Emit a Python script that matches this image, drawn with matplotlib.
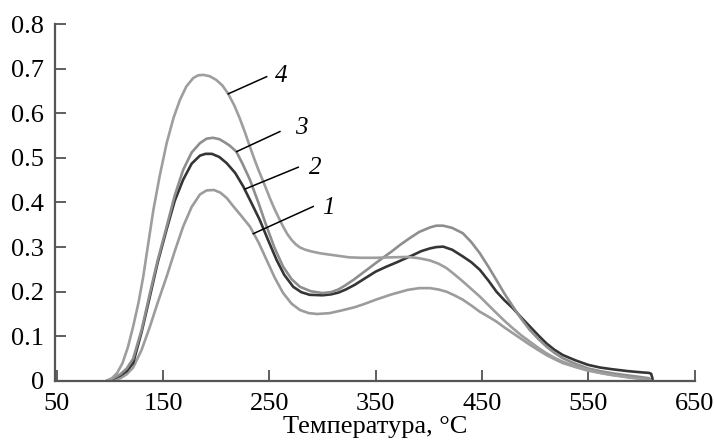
"""TPD-like curves 1-4 vs temperature"""
import numpy as np
from matplotlib import pyplot as plt

plt.rcParams['font.family'] = ['Liberation Serif', 'DejaVu Serif']

# curve 1
t1 = [97, 103, 110, 116, 122, 130, 137.8, 145, 153.5, 161, 169, 177, 184.8, 191, 198, 204, 210, 216, 224,
      231.8, 240, 247.5, 255, 263, 271, 278.8, 287, 295, 307, 318, 330, 340, 350, 365, 380, 391, 401, 409,
      416.6, 424, 432, 440, 448, 456, 463.6, 471, 479, 487, 495, 503, 510.6, 518, 526, 538, 549.7, 561, 573,
      587, 601, 609]
v1 = [0, 0.002, 0.006, 0.015, 0.03, 0.07, 0.122, 0.175, 0.234, 0.29, 0.346, 0.39, 0.418, 0.427, 0.428, 0.422,
      0.41, 0.392, 0.369, 0.346, 0.31, 0.271, 0.232, 0.197, 0.173, 0.159, 0.152, 0.15, 0.152, 0.158, 0.165, 0.173,
      0.182, 0.194, 0.204, 0.208, 0.208, 0.205, 0.2, 0.192, 0.182, 0.169, 0.155, 0.144, 0.133, 0.12, 0.107, 0.094,
      0.081, 0.069, 0.058, 0.049, 0.04, 0.031, 0.023, 0.018, 0.013, 0.009, 0.005, 0]
# curve 2
t2 = [97, 103, 110, 116, 122, 130, 137.8, 145, 153.5, 161, 169, 177, 184.8, 190, 196, 203, 210, 218, 225.5,
      233, 241, 249, 256.9, 264, 272.5, 280, 288, 300, 308, 315, 322, 330, 340, 350, 360, 370, 385, 393, 401,
      407, 413.5, 422, 432, 440, 448, 456, 463.6, 471, 479, 487, 495, 503, 510.6, 518, 526, 538, 549.7, 561,
      573, 587, 601, 607, 609, 610, 610.5]
v2 = [0, 0.005, 0.012, 0.022, 0.04, 0.11, 0.19, 0.265, 0.34, 0.403, 0.451, 0.487, 0.505, 0.509, 0.509, 0.502,
      0.488, 0.466, 0.436, 0.4, 0.361, 0.315, 0.271, 0.238, 0.211, 0.199, 0.193, 0.192, 0.194, 0.198, 0.205, 0.215,
      0.23, 0.245, 0.256, 0.266, 0.282, 0.291, 0.297, 0.3, 0.301, 0.294, 0.279, 0.266, 0.249, 0.225, 0.2, 0.181,
      0.163, 0.142, 0.122, 0.102, 0.084, 0.07, 0.058, 0.046, 0.036, 0.03, 0.026, 0.022, 0.019, 0.018, 0.016,
      0.008, 0]
# curve 3
t3 = [97, 103, 110, 116, 122, 130, 137.8, 145, 153.5, 161, 169, 177, 184.8, 191, 197, 203, 208, 213, 219,
      225, 231.8, 240, 247.5, 255, 263, 271, 278.8, 289, 300, 308, 315, 322, 330, 340, 350, 358, 365, 373, 382,
      391, 401, 407, 413.5, 422, 432, 440, 448, 456, 463.6, 471, 479, 487, 495, 503, 510.6, 518, 526, 538,
      549.7, 561, 573, 585, 595, 607, 609]
v3 = [0, 0.006, 0.015, 0.028, 0.05, 0.115, 0.197, 0.27, 0.346, 0.415, 0.473, 0.512, 0.533, 0.543, 0.545, 0.542,
      0.535, 0.527, 0.514, 0.486, 0.451, 0.398, 0.346, 0.298, 0.256, 0.228, 0.211, 0.201, 0.197, 0.199, 0.205,
      0.215, 0.228, 0.246, 0.264, 0.278, 0.29, 0.305, 0.32, 0.334, 0.344, 0.348, 0.348, 0.343, 0.331, 0.311, 0.286,
      0.256, 0.226, 0.196, 0.167, 0.139, 0.114, 0.094, 0.077, 0.063, 0.051, 0.038, 0.028, 0.022, 0.017, 0.013,
      0.01, 0.006, 0]
# curve 4
t4 = [97, 102, 107, 112, 117, 122, 127, 131.5, 136, 141, 147, 153.5, 160, 166, 172, 178.5, 183, 188, 194,
      200, 206, 211.4, 217, 222, 227, 231.8, 236, 240, 244, 247.5, 251, 255, 259, 263, 267, 271, 275, 279,
      284, 290, 298, 307, 316, 325, 337, 350, 365, 380, 391, 401, 409, 416.6, 424, 432, 440, 448, 456, 463.6,
      471, 479, 487, 495, 503, 510.6, 518, 526, 538, 549.7, 561, 573, 587, 601, 609]
v4 = [0, 0.006, 0.018, 0.04, 0.075, 0.122, 0.175, 0.234, 0.305, 0.383, 0.46, 0.533, 0.59, 0.63, 0.66, 0.679,
      0.685, 0.686, 0.683, 0.675, 0.662, 0.6435, 0.618, 0.59, 0.558, 0.525, 0.497, 0.472, 0.449, 0.428, 0.407,
      0.385, 0.365, 0.346, 0.329, 0.316, 0.306, 0.299, 0.294, 0.29, 0.286, 0.283, 0.28, 0.277, 0.276, 0.276,
      0.277, 0.278, 0.275, 0.27, 0.263, 0.253, 0.239, 0.223, 0.206, 0.189, 0.17, 0.152, 0.135, 0.118, 0.102,
      0.088, 0.074, 0.062, 0.052, 0.043, 0.033, 0.025, 0.018, 0.013, 0.008, 0.004, 0]

curves = [(t1, v1, '1'), (t2, v2, '2'), (t3, v3, '3'), (t4, v4, '4')]
colors = ['#9c9c9c', '#353535', '#8e8e8e', '#9e9e9e']
# leader lines: (start on curve), (end), label position
leaders = [((234.9, 0.33), (291.3, 0.391), (300.0, 0.388)),
           ((227.1, 0.43), (277.2, 0.479), (287.0, 0.477)),
           ((219.3, 0.514), (260.0, 0.559), (274.0, 0.568)),
           ((211.4, 0.6435), (247.5, 0.682), (255.0, 0.684))]

xticks = [50, 150, 250, 350, 450, 550, 650]
yticks = [0, 0.1, 0.2, 0.3, 0.4, 0.5, 0.6, 0.7, 0.8]
yticklabels = ['0', '0.1', '0.2', '0.3', '0.4', '0.5', '0.6', '0.7', '0.8']

fig = plt.figure(figsize=(7.14, 4.45), dpi=100)
ax = fig.add_axes([0.077, 0.144, 0.896, 0.802])

for (t, v, name), c in zip(curves, colors):
    ax.plot(t, v, color=c, lw=1.9, solid_capstyle='round', solid_joinstyle='round')

for (p0, p1, pl), (_, _, name) in zip(leaders, curves):
    ax.plot([p0[0], p1[0]], [p0[1], p1[1]], color='black', lw=1.1)
    ax.text(pl[0], pl[1], name, fontsize=18, style='italic', ha='left', va='center')

ax.set_xlim(48.5, 650)
ax.set_ylim(0, 0.8)
ax.set_xticks(xticks)
ax.set_yticks(yticks)
ax.set_yticklabels(yticklabels)
ax.tick_params(direction='in', length=8, width=1.2, color='#444444', labelsize=19)
ax.tick_params(axis='x', pad=9)
ax.tick_params(axis='y', pad=8)
for s in ['top', 'right']:
    ax.spines[s].set_visible(False)
for s in ['left', 'bottom']:
    ax.spines[s].set_color('#555555')
    ax.spines[s].set_linewidth(1.6)
ax.set_xlabel('Температура, °C', fontsize=19, labelpad=0.5)

fig.savefig('out.png', dpi=100)
